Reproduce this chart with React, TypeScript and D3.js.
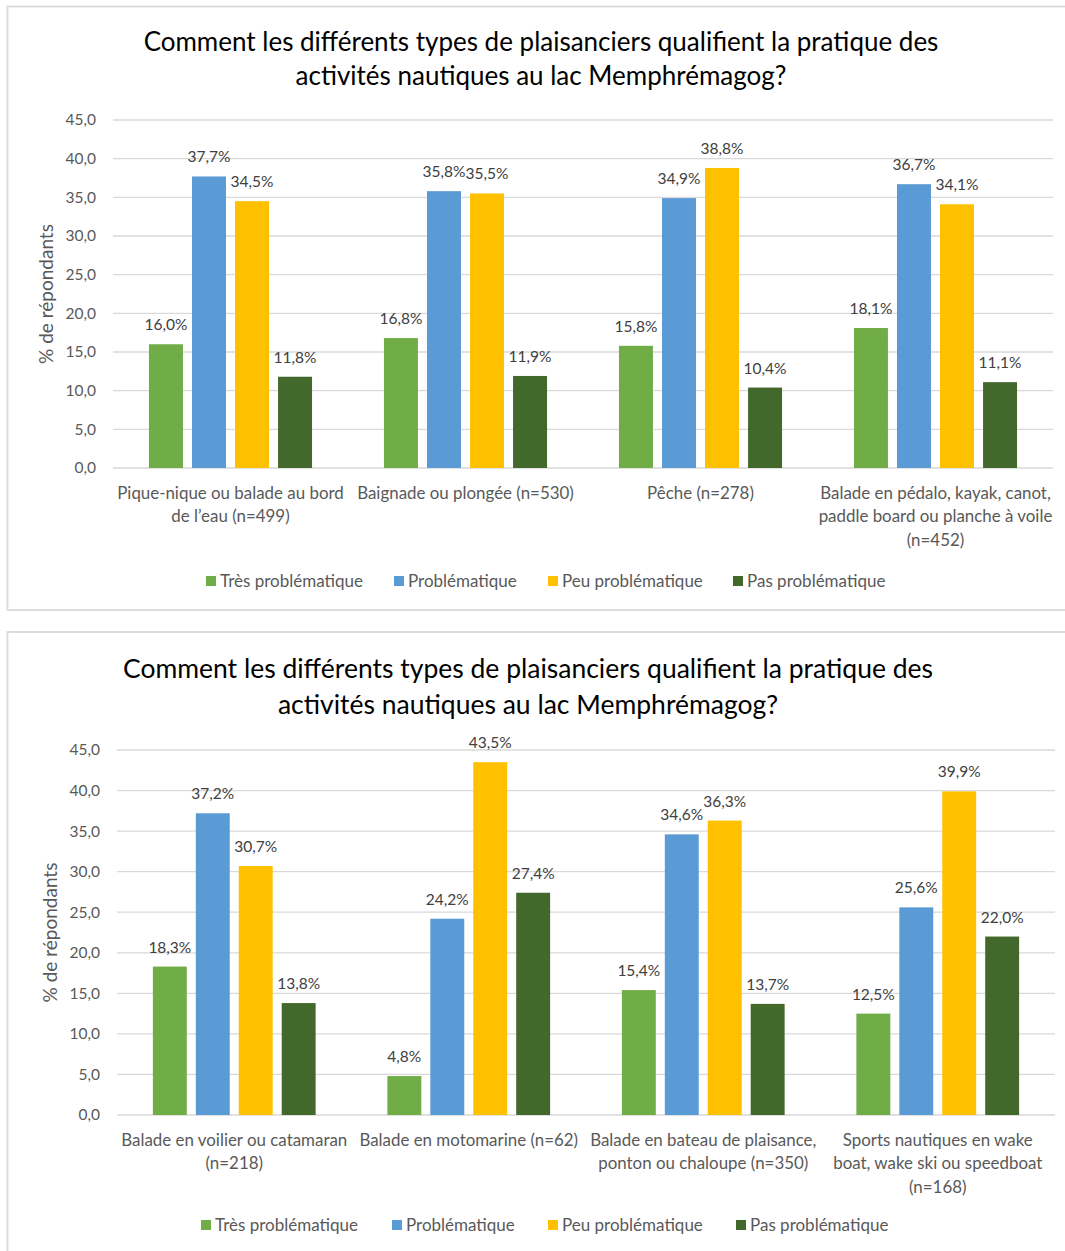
import React from "react";
import * as d3 from "d3";

const series = ["Très problématique", "Problématique", "Peu problématique", "Pas problématique"];
const colors = ["#70AD47", "#5B9BD5", "#FFC000", "#43682B"];

const titleLines = [
  "Comment les différents types de plaisanciers qualifient la pratique des",
  "activités nautiques au lac Memphrémagog?",
];

const categories1 = [
  ["Pique-nique ou balade au bord", "de l’eau (n=499)"],
  ["Baignade ou plongée (n=530)"],
  ["Pêche (n=278)"],
  ["Balade en pédalo, kayak, canot,", "paddle board ou planche à voile", "(n=452)"],
];
const values1 = [
  [16.0, 37.7, 34.5, 11.8],
  [16.8, 35.8, 35.5, 11.9],
  [15.8, 34.9, 38.8, 10.4],
  [18.1, 36.7, 34.1, 11.1],
];

const categories2 = [
  ["Balade en voilier ou catamaran", "(n=218)"],
  ["Balade en motomarine (n=62)"],
  ["Balade en bateau de plaisance,", "ponton ou chaloupe (n=350)"],
  ["Sports nautiques en wake", "boat, wake ski ou speedboat", "(n=168)"],
];
const values2 = [
  [18.3, 37.2, 30.7, 13.8],
  [4.8, 24.2, 43.5, 27.4],
  [15.4, 34.6, 36.3, 13.7],
  [12.5, 25.6, 39.9, 22.0],
];

const yTicks = [0, 5, 10, 15, 20, 25, 30, 35, 40, 45];
const yTitle = "% de répondants";

const FONT = "Lato, 'Open Sans', sans-serif";
const fmt = (v: number) => v.toFixed(1).replace(".", ",");

type Layout = {
  boxTop: number;
  boxBottom: number;
  titleY: number[];
  titleSize: number;
  titleX: number;
  left: number;
  right: number;
  yTop: number;
  yBottom: number;
  tickX: number;
  yTitleX: number;
  catY: number;
  legendY: number;
  legendX: number[];
};

function Chart({ cats, vals, L }: { cats: string[][]; vals: number[][]; L: Layout }) {
  const y = d3.scaleLinear().domain([0, 45]).range([L.yBottom, L.yTop]);
  const x0 = d3
    .scaleBand<number>()
    .domain(cats.map((_, i) => i))
    .range([L.left, L.right]);
  const gw = x0.bandwidth();
  const pad = gw * 0.153;
  const x1 = d3.scaleBand<string>().domain(series).range([pad, gw - pad]).paddingInner(0.21);
  return (
    <g>
      <rect
        x={7.5}
        y={L.boxTop}
        width={1080}
        height={L.boxBottom - L.boxTop}
        fill="#fff"
        stroke="#D9D9D9"
        strokeWidth={1.8}
      />
      {L.titleY.map((ty, i) => (
        <text
          key={i}
          x={L.titleX}
          y={ty}
          textAnchor="middle"
          fontFamily={FONT}
          fontSize={L.titleSize}
          fill="#000"
        >
          {titleLines[i]}
        </text>
      ))}
      {yTicks.map((t) => (
        <g key={t}>
          <line x1={L.left} x2={L.right} y1={y(t)} y2={y(t)} stroke="#D9D9D9" strokeWidth={1.3} />
          <text
            x={L.tickX}
            y={y(t)}
            dy="0.35em"
            textAnchor="end"
            fontFamily={FONT}
            fontSize={15.5}
            fill="#595959"
          >
            {fmt(t)}
          </text>
        </g>
      ))}
      <text
        transform={`translate(${L.yTitleX},${(L.yTop + L.yBottom) / 2}) rotate(-90)`}
        textAnchor="middle"
        dy="0.35em"
        fontFamily={FONT}
        fontSize={19}
        fill="#595959"
      >
        {yTitle}
      </text>
      {vals.map((row, ci) => (
        <g key={ci} transform={`translate(${x0(ci)},0)`}>
          {row.map((v, si) => (
            <g key={si}>
              <rect
                x={x1(series[si])}
                y={y(v)}
                width={x1.bandwidth()}
                height={y(0) - y(v)}
                fill={colors[si]}
              />
              <text
                x={(x1(series[si]) as number) + x1.bandwidth() / 2}
                y={y(v) - 14}
                textAnchor="middle"
                fontFamily={FONT}
                fontSize={15.5}
                fill="#404040"
              >
                {fmt(v) + "%"}
              </text>
            </g>
          ))}
          {cats[ci].map((line, li) => (
            <text
              key={li}
              x={gw / 2}
              y={L.catY + li * 23.3}
              dy="0.35em"
              textAnchor="middle"
              fontFamily={FONT}
              fontSize={16.9}
              fill="#595959"
            >
              {line}
            </text>
          ))}
        </g>
      ))}
      {series.map((s, i) => (
        <g key={s}>
          <rect x={L.legendX[i]} y={L.legendY - 5} width={10} height={10} fill={colors[i]} />
          <text
            x={L.legendX[i] + 14}
            y={L.legendY}
            dy="0.35em"
            fontFamily={FONT}
            fontSize={17}
            fill="#595959"
          >
            {s}
          </text>
        </g>
      ))}
    </g>
  );
}

const layout1: Layout = {
  boxTop: 6.5,
  boxBottom: 610,
  titleY: [51, 85],
  titleSize: 26,
  titleX: 541,
  left: 113,
  right: 1053,
  yTop: 120,
  yBottom: 468,
  tickX: 96,
  yTitleX: 46,
  catY: 493,
  legendY: 581,
  legendX: [206, 394, 548, 733],
};

const layout2: Layout = {
  boxTop: 632,
  boxBottom: 1300,
  titleY: [678, 714],
  titleSize: 26.5,
  titleX: 528,
  left: 117,
  right: 1055,
  yTop: 750,
  yBottom: 1115,
  tickX: 100,
  yTitleX: 50,
  catY: 1140,
  legendY: 1225,
  legendX: [201, 392, 548, 736],
};

export default function App() {
  return (
    <svg
      width={1065}
      height={1251}
      style={{ position: "absolute", left: 0, top: 0, background: "#fff" }}
    >
      <rect x={0} y={0} width={1065} height={1251} fill="#fff" />
      <Chart cats={categories1} vals={values1} L={layout1} />
      <Chart cats={categories2} vals={values2} L={layout2} />
    </svg>
  );
}
